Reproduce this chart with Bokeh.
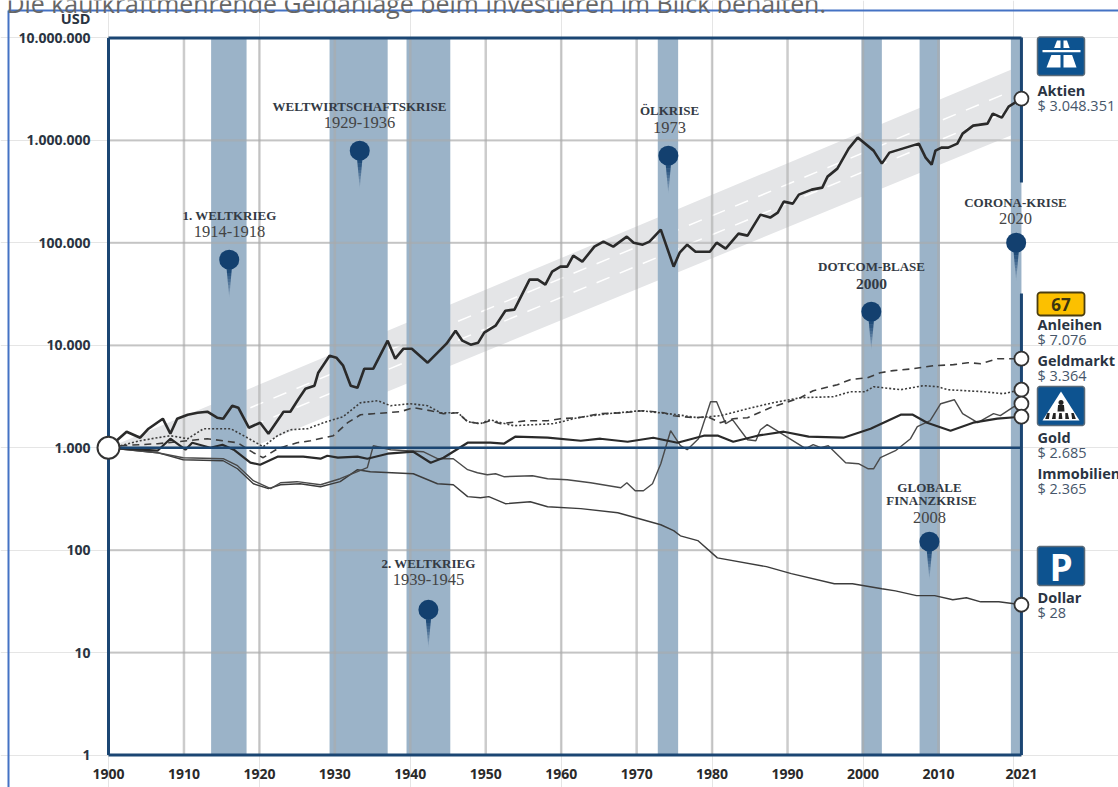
from bokeh.plotting import figure
from bokeh.models import Range1d, LinearAxis, LogAxis, FixedTicker, ColumnDataSource
from bokeh.core.properties import value
from bokeh.embed import file_html
from bokeh.resources import INLINE
import numpy as np

# ---------- data ----------
years_aktien = [1900,1902.4,1904.2,1905.3,1907.2,1908.2,1909.1,1910.5,1911.8,1913.1,1914.4,1915.2,1916.4,1917.2,1918.6,1920.1,1921.2,1923.2,1924.1,1925.2,1926.1,1927.3,1927.8,1929.3,1930.2,1931.1,1932.1,1933,1933.9,1935.1,1937,1938,1939.1,1940.2,1942.3,1944.8,1946,1946.9,1948,1949,1949.8,1951.3,1952.6,1953.8,1955.8,1956.9,1957.9,1958.8,1959.9,1960.8,1961.6,1962.8,1964.4,1965.6,1966.9,1968.7,1969.6,1970.8,1971.7,1973.2,1974.9,1975.7,1976.7,1977.8,1979.7,1980.6,1981.8,1983.5,1984.7,1986.4,1987.7,1988.7,1989.5,1990.7,1991.5,1993.2,1994.6,1995.3,1996.6,1998.1,1999.3,2001.4,2002.5,2003.5,2007.4,2008.3,2009.1,2009.6,2010.4,2011.3,2012.5,2013.2,2014.6,2016.5,2017.2,2018.4,2019.3,2021]
aktien = [1000,1433,1252,1533,1920,1370,1920,2100,2196,2247,1963,1920,2572,2458,1568,1755,1370,2247,2247,3010,3769,4032,5400,7915,7565,6322,4032,3854,5908,5908,11090,7398,9265,9265,6760,10366,13890,11090,10136,10603,13280,15540,21770,22270,43720,43720,39060,52360,58570,58570,74990,65530,91800,102700,91800,115000,100400,96000,102700,134600,58570,80230,96000,82000,82000,100400,87800,123000,117600,188600,176400,197200,252600,241500,295600,330700,346000,443100,530400,831500,1065000,795000,593400,760000,930600,679200,580200,795000,850500,850500,930600,1165000,1395000,1459000,1827000,1670000,2138000,2560000]

years_anleihen = [1900,1901.6,1906.5,1913.1,1917.1,1919.2,1920.5,1922.4,1925,1926.8,1929.8,1931.7,1933.4,1935.1,1938.7,1940.4,1942.7,1944.4,1946.3,1947.6,1949.3,1950.6,1952,1955.5,1958.2,1959.9,1962.2,1965.2,1968.3,1970.9,1973.6,1974.9,1977.5,1979.4,1981.1,1982.8,1984.7,1987.7,1991.7,1993.4,1996.6,1998.3,2000.6,2002.3,2004,2006.7,2009.3,2012,2013.9,2015.6,2017.8,2021]
anleihen = [1000,1046,1094,1224,1119,894,799,978,1119,1170,1310,1755,2100,2148,2247,2458,2298,2148,2197,1795,1716,1836,1716,1836,1836,1920,1963,2148,2197,2298,2197,2054,1963,2008,1755,1920,1963,2458,3077,3600,4121,4614,4826,5400,5654,5908,6322,6468,6760,6610,7398,7398]

years_geld = [1900,1901.6,1904.2,1906.5,1908.2,1910.5,1912.6,1916.2,1918.4,1920.5,1922.4,1924.1,1926.4,1928.5,1931.1,1933.4,1935.7,1937.4,1940,1942.3,1944,1946.3,1947.6,1949.3,1950.6,1952,1953.7,1959,1962.2,1966.1,1970.5,1975.4,1978.1,1981.1,1984.7,1988.1,1991.7,1996.1,1998.3,2000.3,2001.4,2005,2008,2009.9,2011.2,2016,2018.6,2021]
geld = [1000,1046,1170,1252,1310,1224,1533,1533,1252,1023,1310,1499,1533,1755,2008,2750,2876,2571,2689,2571,2197,2197,1795,1716,1877,1755,1640,1716,1963,2148,2298,2100,1963,2054,2403,2750,3077,3146,3520,3520,3943,3684,4032,3943,3684,3520,3366,3684]

years_immo = [1900,1906.5,1908.2,1910.2,1911.1,1913.5,1915.1,1916.6,1918.8,1920.1,1922.4,1925.8,1928.1,1929,1930.4,1933,1934.3,1937,1940.4,1942.7,1944.4,1947.6,1950.6,1952.4,1953.9,1958.2,1962.6,1965.2,1968.8,1972.2,1975.4,1978.9,1980.8,1982.8,1986,1989.5,1992.8,1997.4,2001,2005,2006.6,2008.5,2011.6,2014.6,2017.8,2021]
immo = [1000,935,1224,956,1119,1000,1070,956,714,682,817,817,781,835,799,817,781,874,914,714,799,1119,1119,1094,1281,1252,1170,1224,1144,1252,1119,1310,1310,1144,1310,1433,1281,1252,1533,2100,2100,1755,1466,1755,1920,2008]

years_gold = [1900,1906.5,1909.9,1915.2,1917.1,1919.2,1921.5,1922.8,1925,1928.1,1930.7,1934.3,1935.1,1937.4,1941.7,1943.6,1945.7,1947.6,1948.9,1950.2,1951.3,1952.4,1956.2,1958.2,1960.8,1963.9,1967.9,1968.7,1969.8,1970.9,1972.1,1973.2,1974.5,1975.8,1976.7,1978.2,1979.8,1980.6,1981.8,1982.7,1984.7,1985.8,1986.4,1987.3,1992.4,1993.4,1994.4,1995.4,1997.7,1999.4,2000.7,2001.4,2002.3,2004.3,2006.3,2007.2,2008.9,2010.3,2012.1,2013.2,2015.2,2017.3,2018.2,2020,2021]
gold = [1000,894,799,781,667,476,398,455,466,435,498,638,1046,956,914,781,781,610,570,545,557,521,533,498,487,455,407,455,380,380,445,698,1466,1046,956,1224,2812,2812,1716,1877,1197,1170,1499,1678,978,1070,1000,1046,714,698,623,623,799,935,1224,1604,1836,2689,2941,2148,1755,2148,2054,2514,2689]

years_dollar = [1900,1906.5,1909.9,1915.2,1917.1,1919.2,1921.2,1922.8,1925.4,1928.1,1930.7,1933,1934.7,1940.4,1943.6,1945.7,1947.6,1949.3,1950.4,1952.6,1955.9,1958.2,1962.6,1967.5,1973.2,1974.9,1975.8,1978.1,1980.7,1987.2,1990.5,1996.2,1998.6,2002.5,2004.3,2007.1,2009.5,2011.9,2013.7,2015.6,2018,2021]
dollar = [1000,894,763,746,623,445,398,435,445,416,466,610,583,557,445,435,333,325,333,284,297,265,254,232,177,155,138,124,84,69,59,47,47,42,40,36,36,32.8,34.3,31.3,31.3,29.3]

end_years = [2021,2021,2021,2021,2021]
end_values = [2560000,7398,3684,2689,2008]
dollar_end = 29.3

ribbon_years = [1900,2019.6,2019.6,1919.5]
ribbon_values = [1000,4910000,1114000,1046]
dash_years = [1918.8,2018.9]
dash_upper = [2458,2865000]
dash_lower = [1604,1868000]

band_start = [1913.6,1929.3,1939.5,1972.8,1999.8,2007.5,2019.6]
band_end = [1918.3,1937.0,1945.3,1975.5,2002.5,2010.2,2021.0]

pin_years = [1916.0,1933.3,1942.4,1974.2,2001.1,2008.8,2020.3]
pin_values = [68500,795000,26.2,710000,21300,121,100400]

x_ticks = [1900,1910,1920,1930,1940,1950,1960,1970,1980,1990,2000,2010,2021]
y_ticks = [1,10,100,1000,10000,100000,1000000,10000000]
y_tick_labels = ["1","10","100","1.000","10.000","100.000","1.000.000","10.000.000"]

# ---------- page geometry helpers (annotations only) ----------
W, H = 1118, 787
PXYR, PXDEC = 7.545, 102.43
def X(px): return 1900 + (np.asarray(px, float) - 108) / PXYR
def Y(py): return 10 ** ((754.5 - np.asarray(py, float)) / PXDEC)
def PX(yr): return 108 + (yr - 1900) * PXYR
def PY(v): return 754.5 - np.log10(v) * PXDEC

p = figure(width=W, height=H, output_backend="svg", toolbar_location=None,
           x_range=Range1d(float(X(0)), float(X(W))), y_range=Range1d(float(Y(H)), float(Y(0))),
           y_axis_type="log", x_axis_location=None, y_axis_location=None,
           min_border=0, outline_line_color=None, tools="")
p.styles = {"position": "absolute", "left": "0px", "top": "0px"}

NAVY = "#1b4673"
INK = "#2a3442"

# outer frame of the screenshot and clipped heading
p.line(X([8, 8]), Y([10, 787]), line_color="#4472c4", line_width=2)
p.line(X([8, 1118]), Y([10, 10]), line_color="#4472c4", line_width=2)
p.text(X([6]), Y([2.5]), text=["Die kaufkraftmehrende Geldanlage beim Investieren im Blick behalten."],
       text_font=value("Open Sans"), text_font_size="24.9px", text_color="#666666", text_baseline="alphabetic")

# ribbon, bands
p.patch(ribbon_years, ribbon_values, fill_color="#e4e5e7", line_color=None)
for dv in (dash_upper, dash_lower):
    p.line(dash_years, dv, line_color="white", line_width=1.5, line_dash="14 11")
p.quad(left=band_start, right=band_end, bottom=1, top=10000000, fill_color="#9bb3c8", line_color=None)

# grid
p.segment(x_ticks[1:-1], [1]*(len(x_ticks)-2), x_ticks[1:-1], [10000000]*(len(x_ticks)-2),
          line_color="#aaaaaa", line_alpha=0.6, line_width=2.5)
p.segment([1900]*len(y_ticks), y_ticks, [2021]*len(y_ticks), y_ticks,
          line_color="#aaaaaa", line_alpha=0.55, line_width=2.2)

# series
p.line(years_dollar, dollar, line_color="#3c3c3c", line_width=1.4)
p.line(years_gold, gold, line_color="#4a4a4a", line_width=1.4)
p.line(years_anleihen, anleihen, line_color="#3c3c3c", line_width=1.6, line_dash="7 5")
p.line(years_geld, geld, line_color="#3c3c3c", line_width=1.6, line_dash="2 2")
p.line(years_immo, immo, line_color="#2a2a2a", line_width=2.2)
p.line(years_aktien, aktien, line_color="#2a2a2a", line_width=2.6)

# axes frame
p.line([1900, 1900], [1, 10000000], line_color=NAVY, line_width=3)
p.line([1900, 2021], [1, 1], line_color=NAVY, line_width=3)
p.line([1900, 2021], [10000000, 10000000], line_color=NAVY, line_width=3)
p.line([2021, 2021], [float(Y(37)), float(Y(182))], line_color=NAVY, line_width=3)
p.line([2021, 2021], [float(Y(293)), 1], line_color=NAVY, line_width=3)
p.line([1900, 2021], [1000, 1000], line_color=NAVY, line_width=2.5)

# end circles
p.scatter([1900], [1000], size=22, fill_color="white", line_color="#333333", line_width=2)
p.scatter(end_years + [2021], end_values + [dollar_end], size=14, fill_color="white",
          line_color="#333333", line_width=1.8)

# pins
xs, ys, alphas = [], [], []
N = 10
for yr, v in zip(pin_years, pin_values):
    cx, cy = PX(yr), PY(v)
    for i in range(N):
        y0, y1 = cy + 7 + i * 3.1, cy + 7 + (i + 1) * 3.1
        w0, w1 = 2.8 * (1 - i / N), 2.8 * (1 - (i + 1) / N)
        xs.append(X([cx - w0, cx + w0, cx + w1, cx - w1]).tolist())
        ys.append(Y([y0, y0, y1, y1]).tolist())
        alphas.append(1 - i / N)
p.patches(xs, ys, fill_color="#13406f", fill_alpha=alphas, line_color=None)
p.scatter(pin_years, pin_values, size=20, fill_color="#13406f", line_color=None)

# event labels
def label(px, py, txt, size, style="bold", color="#333a44"):
    p.text(X([px]), Y([py]), text=[txt], text_font=value("Liberation Serif"), text_font_size=size,
           text_font_style=style, text_color=color, text_align="center", text_baseline="middle")

for px, py, t in [(229, 215, "1. WELTKRIEG"), (359, 106, "WELTWIRTSCHAFTSKRISE"), (669, 110, "ÖLKRISE"),
                  (871, 266, "DOTCOM-BLASE"), (1015, 202, "CORONA-KRISE"), (929, 487, "GLOBALE"),
                  (931, 500, "FINANZKRISE"), (428, 563, "2. WELTKRIEG")]:
    label(px, py, t, "13px")
for px, py, t in [(229, 231, "1914-1918"), (359, 122, "1929-1936"), (669, 127, "1973"),
                  (1015, 218, "2020"), (929, 517, "2008"), (428, 579, "1939-1945")]:
    label(px, py, t, "16.5px", "normal", "#444444")
label(871, 283, "2000", "15.5px", "bold", "#333a44")

# right labels
def side(py, txt, bold):
    p.text(X([1037]), Y([py]), text=[txt], text_font=value("Open Sans"), text_font_size="14.5px",
           text_font_style="bold" if bold else "normal", text_color=INK if bold else "#46566a",
           text_baseline="middle")
for py, a, b in [(90, "Aktien", "$ 3.048.351"), (324, "Anleihen", "$ 7.076"), (360, "Geldmarkt", "$ 3.364"),
                 (437, "Gold", "$ 2.685"), (473, "Immobilien", "$ 2.365"), (597, "Dollar", "$ 28")]:
    side(py, a, True)
    side(py + 14.5, b, False)

# signs
def rr(x0, y0, x1, y1, r):
    out = []
    for cx, cy, a0 in [(x1 - r, y0 + r, -90), (x1 - r, y1 - r, 0), (x0 + r, y1 - r, 90), (x0 + r, y0 + r, 180)]:
        for a in np.radians(np.arange(a0, a0 + 91, 15)):
            out.append((cx + r * np.cos(a), cy + r * np.sin(a)))
    return X([o[0] for o in out]), Y([o[1] for o in out])
def poly(pts, color):
    p.patch(X([a for a, _ in pts]), Y([b for _, b in pts]), fill_color=color, line_color=None)

BLUE = "#0d5390"
for y0, y1 in [(36.5, 75), (386, 425), (546, 585)]:
    sx, sy = rr(1037, y0, 1084, y1, 2.5)
    p.patch(sx, sy, fill_color=BLUE, line_color="#5a6a78", line_width=1.5)
sx, sy = rr(1037, 292, 1084, 315, 3)
p.patch(sx, sy, fill_color="#fcc000", line_color="#4a3d10", line_width=1.8)
p.text(X([1060.5]), Y([304]), text=["67"], text_font=value("Open Sans"), text_font_size="17px",
       text_font_style="bold", text_color="#3a3410", text_align="center", text_baseline="middle")
p.text(X([1060.5]), Y([566]), text=["P"], text_font=value("Open Sans"), text_font_size="37px",
       text_font_style="bold", text_color="white", text_align="center", text_baseline="middle")

# motorway pictogram
poly([(1056.5, 40), (1060, 40), (1060, 67), (1046, 67)], "white")
poly([(1063, 40), (1066.5, 40), (1076, 67), (1063, 67)], "white")
poly([(1047, 47.5), (1075, 47.5), (1075, 54.5), (1047, 54.5)], BLUE)
poly([(1042, 49.5), (1080, 49.5), (1080, 51.7), (1042, 51.7)], "white")

# pedestrian crossing pictogram
poly([(1060.5, 391), (1079, 420), (1042, 420)], "white")
p.scatter(X([1060.5]), Y([402]), size=5, fill_color="#222222", line_color=None)
poly([(1057.5, 404.5), (1063.5, 404.5), (1064, 411), (1057, 411)], "#222222")
for ox in (1048, 1054, 1060, 1066, 1072):
    poly([(ox - 1.2, 412.5), (ox + 1.2, 412.5), (ox + 1.9 + (ox - 1060) * .12, 418.5), (ox - 1.9 + (ox - 1060) * .12, 418.5)], "#222222")

# axes through the library
xaxis = LinearAxis(fixed_location=1, ticker=FixedTicker(ticks=x_ticks), axis_line_color=None,
                   major_tick_line_color=None, minor_tick_line_color=None, major_label_standoff=8,
                   major_label_text_font="Open Sans", major_label_text_font_style="bold",
                   major_label_text_font_size="14px", major_label_text_color="#2a2a2a",
                   major_label_overrides={t: str(t) for t in x_ticks})
p.add_layout(xaxis, "below")
yaxis = LogAxis(fixed_location=1900, ticker=FixedTicker(ticks=y_ticks), axis_line_color=None,
                major_tick_line_color=None, minor_tick_line_color=None, major_label_standoff=12,
                major_label_text_font="Open Sans", major_label_text_font_style="bold",
                major_label_text_font_size="14px", major_label_text_color="#2a3442",
                major_label_overrides=dict(zip(y_ticks, y_tick_labels)))
p.add_layout(yaxis, "left")
p.text(X([90]), Y([18]), text=["USD"], text_font=value("Open Sans"), text_font_size="14.5px",
       text_font_style="bold", text_color="#2a3442", text_align="right", text_baseline="middle")

# source line, clipped by the screenshot edge
p.text(X([672]), Y([784]), text=["Quelle: FRED Economic Data, Bloomberg, Robert Shiller, Jeremy Siegel"],
       text_font=value("Open Sans"), text_font_size="10.5px", text_color="#555555", text_baseline="top")

open("out.html", "w").write(file_html(p, INLINE))
